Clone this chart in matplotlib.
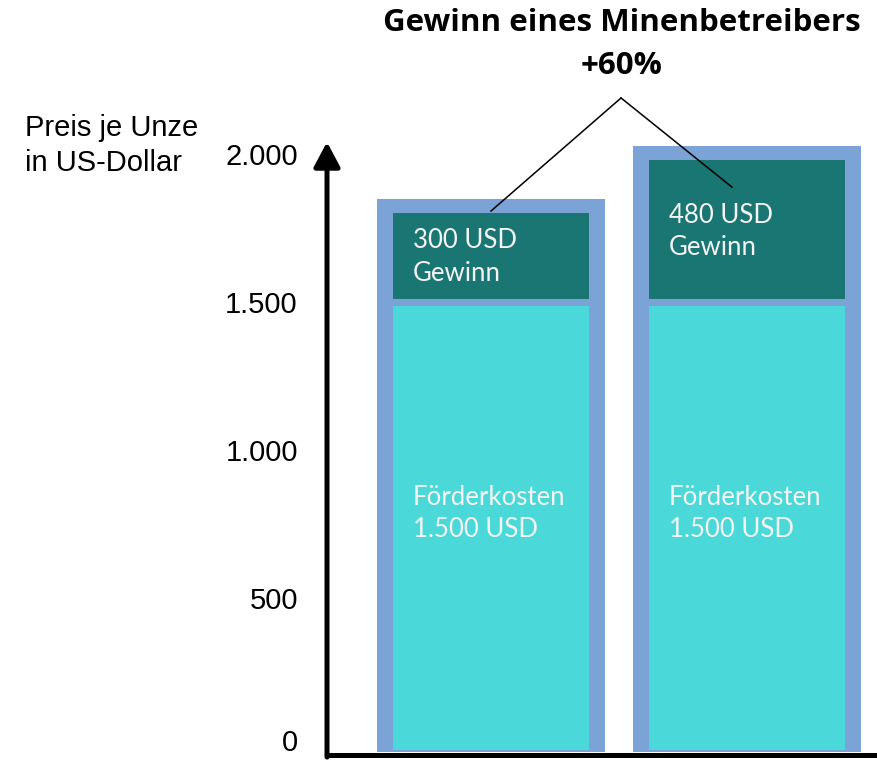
import matplotlib
matplotlib.use("Agg")
import matplotlib.pyplot as plt
import matplotlib.transforms as mtransforms

# data
scenarios = ["Heute", "Morgen"]
cost = [1500, 1500]
profit = [300, 480]
cost_labels = ["Förderkosten\n1.500 USD", "Förderkosten\n1.500 USD"]
profit_labels = ["300 USD\nGewinn", "480 USD\nGewinn"]
yticks = [0, 500, 1000, 1500, 2000]
ytick_labels = ["0", "500", "1.000", "1.500", "2.000"]
title = "Gewinn eines Minenbetreibers\n+60%"

# colours
c_outer = "#7BA3D6"
c_cost = "#4AD8D8"
c_profit = "#1A7673"
c_text = "#F4F4F4"

W, H = 877, 761
fig = plt.figure(figsize=(W / 100, H / 100), dpi=100)

# axes placed in pixel terms: left edge at the y axis, bottom at the x axis
ax_l, ax_r, ax_b, ax_t = 327, 877, 755, 140
ax = fig.add_axes([ax_l / W, (H - ax_b) / H, (ax_r - ax_l) / W, (ax_b - ax_t) / H])
ax.set_xlim(-0.6406, 1.5078)
ax.set_ylim(-17, 2061)

x = list(range(len(scenarios)))
total = [c + p for c, p in zip(cost, profit)]

# outer frame bar, cost bar, profit bar
ax.bar(x, [t + 67 for t in total], bottom=-7, width=0.894, color=c_outer, zorder=1)
ax.bar(x, cost, width=0.762, color=c_cost, zorder=2)
ax.bar(x, [p - 10 for p in profit], bottom=[c + 25 for c in cost], width=0.762,
       color=c_profit, zorder=2)

light = dict(family=["Lato", "DejaVu Sans"], fontweight="normal", color=c_text,
             fontsize=18.5, ha="left", va="top", linespacing=1.36, zorder=3)
profit_y = [1762, 1848]
for i in x:
    ax.text(i - 0.305, profit_y[i], profit_labels[i], **light)
    ax.text(i - 0.305, 896, cost_labels[i], **light)

# connector lines from the title to both profit boxes
apex = (0.508, 2203)
ax.plot([apex[0], 0.0], [apex[1], 1821], color="black", lw=1.1, clip_on=False, zorder=4)
ax.plot([apex[0], 0.941], [apex[1], 1902], color="black", lw=1.1, clip_on=False, zorder=4)

# axes styling
for s in ["top", "right", "left"]:
    ax.spines[s].set_visible(False)
ax.spines["bottom"].set_linewidth(3.6)
ax.set_xticks([])
ax.set_yticks(yticks)
ax.set_yticklabels(ytick_labels, family=["Liberation Sans", "DejaVu Sans"], fontsize=21)
ax.tick_params(axis="y", length=0, pad=21)
for lbl in ax.get_yticklabels():
    # the bottom label needs a little extra room so it is not clipped
    dy = 7 if lbl.get_text() == "0" else 3
    shift_up = mtransforms.ScaledTranslation(0, dy / 72, fig.dpi_scale_trans)
    lbl.set_transform(lbl.get_transform() + shift_up)

ax.annotate("", xy=(-0.6406, 2054), xytext=(-0.6406, -24),
            arrowprops=dict(arrowstyle="-|>,head_length=0.75,head_width=0.4",
                            mutation_scale=20, lw=3.6, color="black",
                            shrinkA=0, shrinkB=0),
            annotation_clip=False)

fig.text(25 / W, 1 - 114 / H, "Preis je Unze\nin US-Dollar",
         family=["Liberation Sans", "DejaVu Sans"], fontsize=21,
         ha="left", va="top", linespacing=1.3)

fig.text(622 / W, 1 - 8 / H, title, family=["Open Sans", "DejaVu Sans"],
         fontweight="bold", fontsize=22.5, ha="center", va="top", linespacing=1.55)

fig.savefig("out.png", dpi=100)
